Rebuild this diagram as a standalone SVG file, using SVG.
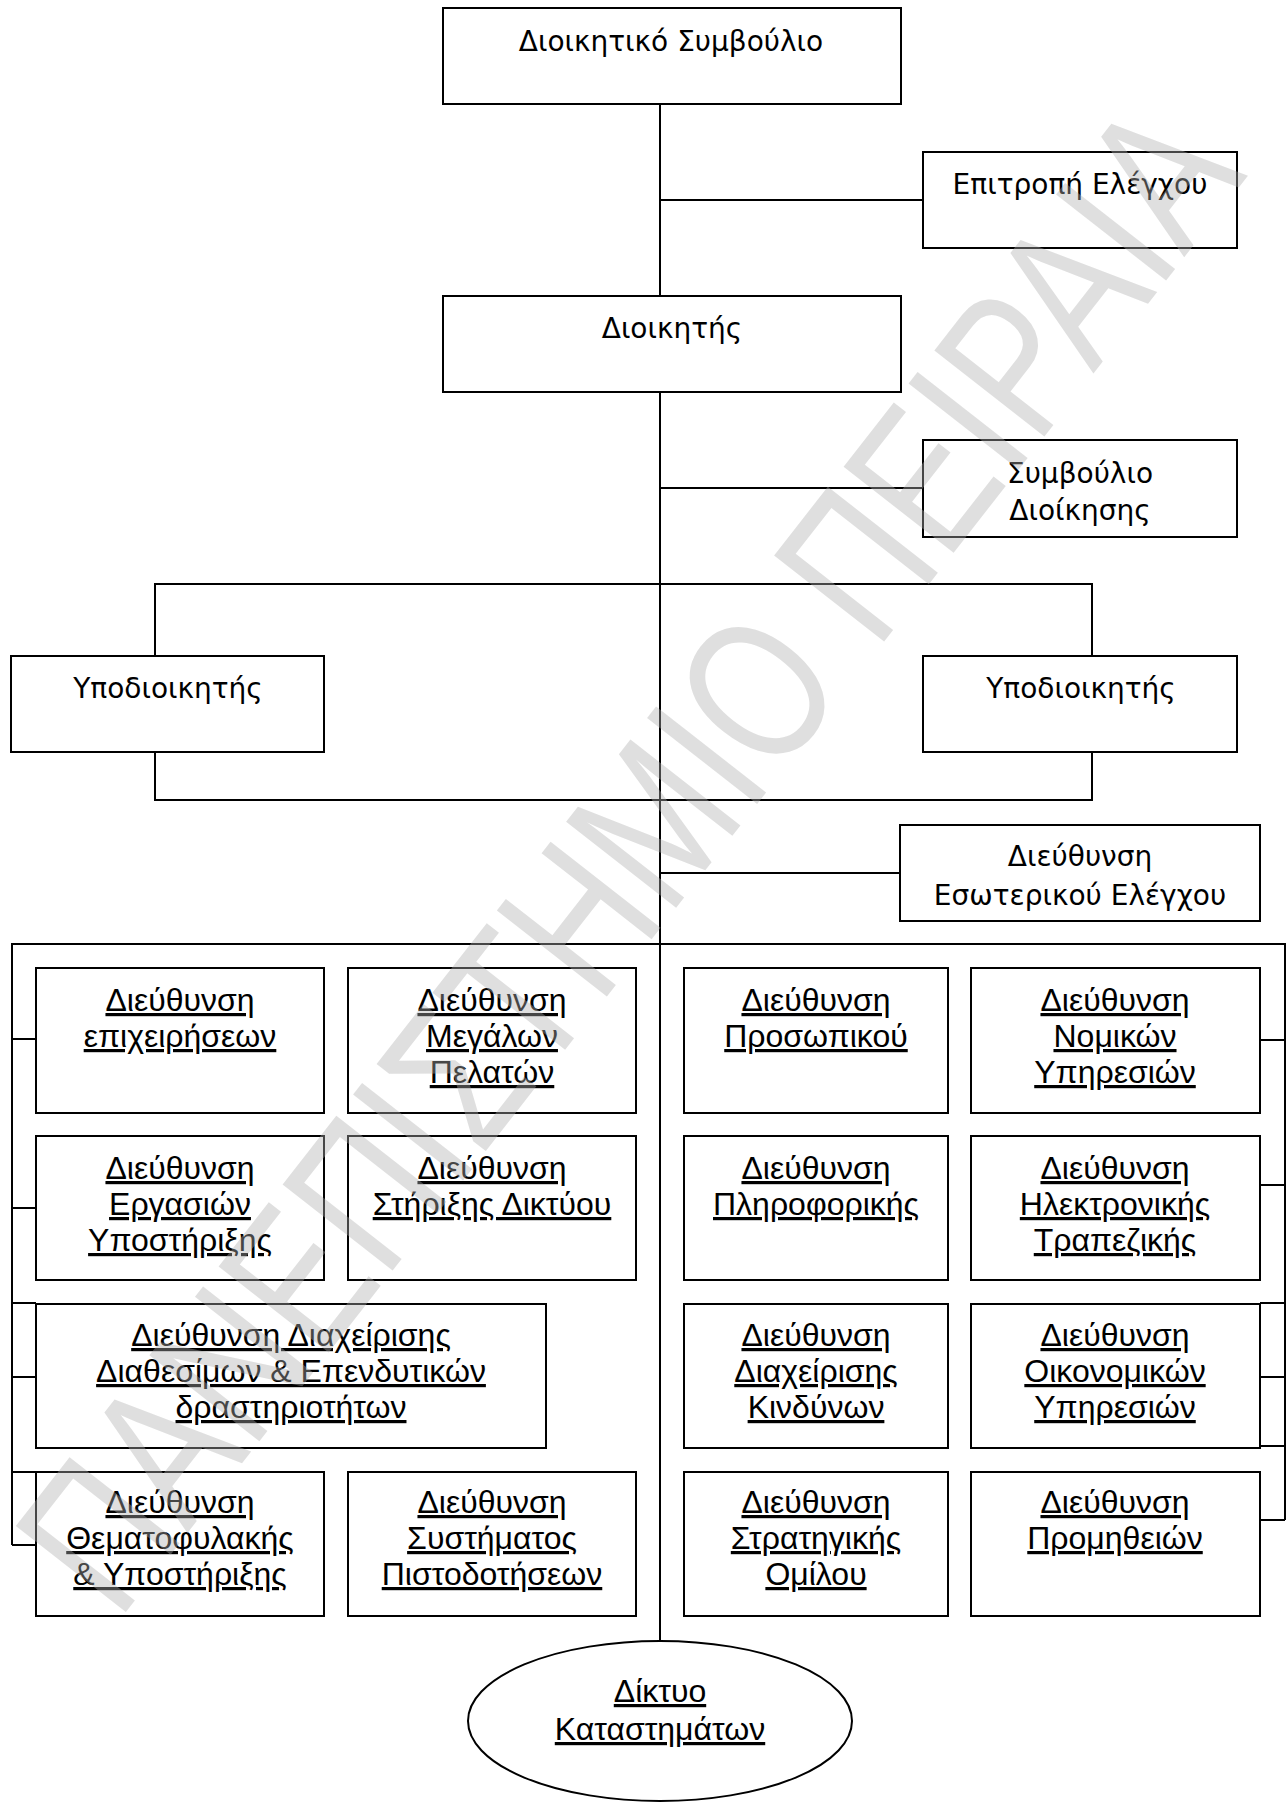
<svg xmlns="http://www.w3.org/2000/svg" width="1287" height="1804" viewBox="0 0 1287 1804">
<style>
  .box { fill: #ffffff; stroke: #000000; stroke-width: 2; }
  .ln { fill: none; stroke: #000000; stroke-width: 2; }
  .t1 { font-family: "DejaVu Sans", "Liberation Sans", sans-serif; font-size: 28px; fill: #000000; text-anchor: middle; }
  .t2 { font-family: "Liberation Sans", Arial, sans-serif; font-size: 32px; fill: #000000; text-anchor: middle; text-decoration: underline; text-decoration-thickness: 3px; }
  .wm { font-family: "Liberation Sans", Arial, sans-serif; font-size: 156px; fill: #b0b0b0; fill-opacity: 0.4; }
</style>
<rect width="1287" height="1804" fill="#ffffff"/>
<g id="connectors">
  <line class="ln" x1="660" y1="104" x2="660" y2="1641"/>
  <line class="ln" x1="660" y1="200" x2="923" y2="200"/>
  <line class="ln" x1="660" y1="488" x2="923" y2="488"/>
  <polyline class="ln" points="155,656 155,584 1092,584 1092,656"/>
  <polyline class="ln" points="155,752 155,800 1092,800 1092,752"/>
  <line class="ln" x1="660" y1="873" x2="900" y2="873"/>
  <polyline class="ln" points="12,1545 12,944 1285,944 1285,1520"/>
  <line class="ln" x1="12" y1="1039" x2="36" y2="1039"/>
  <line class="ln" x1="12" y1="1208" x2="36" y2="1208"/>
  <line class="ln" x1="12" y1="1303" x2="36" y2="1303"/>
  <line class="ln" x1="12" y1="1377" x2="36" y2="1377"/>
  <line class="ln" x1="12" y1="1472" x2="36" y2="1472"/>
  <line class="ln" x1="12" y1="1545" x2="36" y2="1545"/>
  <line class="ln" x1="1260" y1="1040" x2="1285" y2="1040"/>
  <line class="ln" x1="1260" y1="1185" x2="1285" y2="1185"/>
  <line class="ln" x1="1260" y1="1303" x2="1285" y2="1303"/>
  <line class="ln" x1="1260" y1="1377" x2="1285" y2="1377"/>
  <line class="ln" x1="1260" y1="1446" x2="1285" y2="1446"/>
  <line class="ln" x1="1260" y1="1520" x2="1285" y2="1520"/>
</g>
<g id="n-dioikitiko">
  <rect class="box" x="443" y="8" width="458" height="96"/>
  <text class="t1" x="671" y="51">Διοικητικό Συμβούλιο</text>
</g>
<g id="n-epitropi">
  <rect class="box" x="923" y="152" width="314" height="96"/>
  <text class="t1" x="1080" y="194">Επιτροπή Ελέγχου</text>
</g>
<g id="n-dioikitis">
  <rect class="box" x="443" y="296" width="458" height="96"/>
  <text class="t1" x="672" y="338">Διοικητής</text>
</g>
<g id="n-symvoulio">
  <rect class="box" x="923" y="440" width="314" height="97"/>
  <text class="t1" x="1080" y="483">Συμβούλιο</text>
  <text class="t1" x="1080" y="520">Διοίκησης</text>
</g>
<g id="n-ypodioikitis-1">
  <rect class="box" x="11" y="656" width="313" height="96"/>
  <text class="t1" x="168" y="698">Υποδιοικητής</text>
</g>
<g id="n-ypodioikitis-2">
  <rect class="box" x="923" y="656" width="314" height="96"/>
  <text class="t1" x="1081" y="698">Υποδιοικητής</text>
</g>
<g id="n-esoterikos">
  <rect class="box" x="900" y="825" width="360" height="96"/>
  <text class="t1" x="1080" y="866">Διεύθυνση</text>
  <text class="t1" x="1080" y="905">Εσωτερικού Ελέγχου</text>
</g>
<g id="n-epixeiriseon">
  <rect class="box" x="36" y="968" width="288" height="145"/>
  <text class="t2" x="180" y="1011">Διεύθυνση</text>
  <text class="t2" x="180" y="1047">επιχειρήσεων</text>
</g>
<g id="n-megalon">
  <rect class="box" x="348" y="968" width="288" height="145"/>
  <text class="t2" x="492" y="1011">Διεύθυνση</text>
  <text class="t2" x="492" y="1047">Μεγάλων</text>
  <text class="t2" x="492" y="1083">Πελατών</text>
</g>
<g id="n-prosopikou">
  <rect class="box" x="684" y="968" width="264" height="145"/>
  <text class="t2" x="816" y="1011">Διεύθυνση</text>
  <text class="t2" x="816" y="1047">Προσωπικού</text>
</g>
<g id="n-nomikon">
  <rect class="box" x="971" y="968" width="289" height="145"/>
  <text class="t2" x="1115" y="1011">Διεύθυνση</text>
  <text class="t2" x="1115" y="1047">Νομικών</text>
  <text class="t2" x="1115" y="1083">Υπηρεσιών</text>
</g>
<g id="n-ergasion">
  <rect class="box" x="36" y="1136" width="288" height="144"/>
  <text class="t2" x="180" y="1179">Διεύθυνση</text>
  <text class="t2" x="180" y="1215">Εργασιών</text>
  <text class="t2" x="180" y="1251">Υποστήριξης</text>
</g>
<g id="n-diktyou">
  <rect class="box" x="348" y="1136" width="288" height="144"/>
  <text class="t2" x="492" y="1179">Διεύθυνση</text>
  <text class="t2" x="492" y="1215">Στήριξης Δικτύου</text>
</g>
<g id="n-pliroforikis">
  <rect class="box" x="684" y="1136" width="264" height="144"/>
  <text class="t2" x="816" y="1179">Διεύθυνση</text>
  <text class="t2" x="816" y="1215">Πληροφορικής</text>
</g>
<g id="n-ilektronikis">
  <rect class="box" x="971" y="1136" width="289" height="144"/>
  <text class="t2" x="1115" y="1179">Διεύθυνση</text>
  <text class="t2" x="1115" y="1215">Ηλεκτρονικής</text>
  <text class="t2" x="1115" y="1251">Τραπεζικής</text>
</g>
<g id="n-diatheismon">
  <rect class="box" x="36" y="1304" width="510" height="144"/>
  <text class="t2" x="291" y="1346">Διεύθυνση Διαχείρισης</text>
  <text class="t2" x="291" y="1382">Διαθεσίμων &amp; Επενδυτικών</text>
  <text class="t2" x="291" y="1418">δραστηριοτήτων</text>
</g>
<g id="n-kindynon">
  <rect class="box" x="684" y="1304" width="264" height="144"/>
  <text class="t2" x="816" y="1346">Διεύθυνση</text>
  <text class="t2" x="816" y="1382">Διαχείρισης</text>
  <text class="t2" x="816" y="1418">Κινδύνων</text>
</g>
<g id="n-oikonomikon">
  <rect class="box" x="971" y="1304" width="289" height="144"/>
  <text class="t2" x="1115" y="1346">Διεύθυνση</text>
  <text class="t2" x="1115" y="1382">Οικονομικών</text>
  <text class="t2" x="1115" y="1418">Υπηρεσιών</text>
</g>
<g id="n-thematofylakis">
  <rect class="box" x="36" y="1472" width="288" height="144"/>
  <text class="t2" x="180" y="1513">Διεύθυνση</text>
  <text class="t2" x="180" y="1549">Θεματοφυλακής</text>
  <text class="t2" x="180" y="1585">&amp; Υποστήριξης</text>
</g>
<g id="n-pistodotiseon">
  <rect class="box" x="348" y="1472" width="288" height="144"/>
  <text class="t2" x="492" y="1513">Διεύθυνση</text>
  <text class="t2" x="492" y="1549">Συστήματος</text>
  <text class="t2" x="492" y="1585">Πιστοδοτήσεων</text>
</g>
<g id="n-stratigikis">
  <rect class="box" x="684" y="1472" width="264" height="144"/>
  <text class="t2" x="816" y="1513">Διεύθυνση</text>
  <text class="t2" x="816" y="1549">Στρατηγικής</text>
  <text class="t2" x="816" y="1585">Ομίλου</text>
</g>
<g id="n-promitheion">
  <rect class="box" x="971" y="1472" width="289" height="144"/>
  <text class="t2" x="1115" y="1513">Διεύθυνση</text>
  <text class="t2" x="1115" y="1549">Προμηθειών</text>
</g>
<g id="n-diktyo">
  <ellipse class="box" cx="660" cy="1721" rx="192" ry="80"/>
  <text class="t2" x="660" y="1702">Δίκτυο</text>
  <text class="t2" x="660" y="1740">Καταστημάτων</text>
</g>
<g id="watermark">
  <text class="wm" transform="translate(118,1622) rotate(-52) scale(1,1.3)">ΠΑΝΕΠΙΣΤΗΜΙΟ ΠΕΙΡΑΙΑ</text>
</g>
</svg>
